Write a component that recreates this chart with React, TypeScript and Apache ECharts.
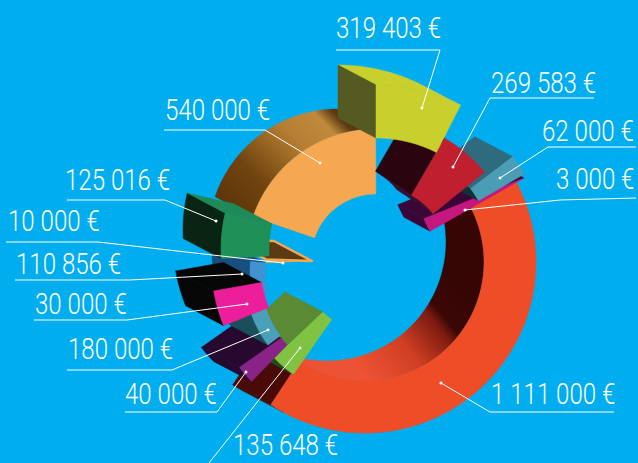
import React, { useEffect, useRef } from "react";
import * as echarts from "echarts";

// ---- data ----
const sliceNames = ["orange", "yellow", "crimson", "teal", "magenta", "red", "lime", "purple", "aqua", "pink", "blue", "sliver", "green"];
const sliceValues = [540000, 319403, 269583, 62000, 3000, 1111000, 135648, 40000, 180000, 30000, 110856, 10000, 125016];

// ---- styling and layout ----
const BG = "#00aeef";
const W = 638;
const H = 463;
const DEFAULT_DEPTH = [-38, -20];
const drawOrder = [5, 0, 11, 4, 3, 2, 1, 6, 7, 8, 10, 9, 12];

const grad = (x0: number, y0: number, x1: number, y1: number, stops: [number, string][]) =>
  new echarts.graphic.LinearGradient(x0, y0, x1, y1, stops.map(([offset, color]) => ({ offset, color })), true);

type Geo = {
  cx: number; cy: number; r0: number; r1: number; start: number; stretch: number;
  face: string; outer?: any; inner?: any; capS?: any; capE?: any; depth?: number[]; wallStroke?: string;
};
const geometry: Geo[] = [
  { cx: 376, cy: 259, r0: 65, r1: 130, start: 161, stretch: 1.07, face: "#f5a851",
    outer: grad(228, 222, 350, 100, [[0, "#5a3208"], [0.3, "#70440f"], [0.62, "#b57e32"], [0.8, "#c08a3c"], [0.88, "#5b3a14"], [1, "#4f3210"]]), capS: "#5a3410", capE: "#5a3612" },
  { cx: 376, cy: 271, r0: 133, r1: 186, start: 90, stretch: 0.69, face: "#c9d02e", outer: "#c9d02e", capS: "#555a22", capE: "#555a22" },
  { cx: 373, cy: 262, r0: 77, r1: 143, start: 60, stretch: 0.64, face: "#bf1f2e", inner: "#3a1030", capS: "#2a040f", capE: "#2a040f", depth: [-36, -24] },
  { cx: 373, cy: 262, r0: 122, r1: 175, start: 37, stretch: 0.9, face: "#4a9db5", inner: "#123038", capS: "#2f6b7f", capE: "#2f6b7f" },
  { cx: 524, cy: 178, r0: 0, r1: 108, start: 209.5, stretch: 20, face: "#c4187f", capS: "#3a0638", capE: "#3a0638", inner: "#3a0638", outer: "#3a0638", depth: [-26, -14] },
  { cx: 365, cy: 262, r0: 119, r1: 171, start: 28.3, stretch: 1.114, face: "#ef4c28", outer: "#4a0a08", capS: "#3a0806", capE: "#4a0a08",
    inner: grad(470, 305, 372, 385, [[0, "#360605"], [0.22, "#3c0806"], [0.3, "#7c1a10"], [0.6, "#cf3f23"], [1, "#ee5234"]]) },
  { cx: 365, cy: 272, r0: 58, r1: 125, start: 235, stretch: 0.69, face: "#80c342", outer: "#234a1c", inner: "#4a7a2c", capS: "#234a1c", capE: "#5b8a35" },
  { cx: 322, cy: 309, r0: 50, r1: 101, start: 225.8, stretch: 2.14, face: "#8a2388", outer: "#27082f", inner: "#4f1a5e", capS: "#27082f", capE: "#27082f" },
  { cx: 357, cy: 278, r0: 96, r1: 111.5, start: 217, stretch: 0.83, face: "#4aa0ba", outer: "#1a4f5a", inner: "#13303a", capS: "#1a1030", capE: "#1a4f5a" },
  { cx: 385, cy: 260.5, r0: 125.5, r1: 174, start: 202, stretch: 3.24, face: "#ec1e9a", outer: "#060606", inner: "#060606", capS: "#060606", capE: "#060606" },
  { cx: 370, cy: 272, r0: 105, r1: 120, start: 192, stretch: 1.25, face: "#3f93d2", outer: "#17507f", inner: "#17507f", capS: "#17507f", capE: "#17507f" },
  { cx: 312, cy: 261, r0: 0, r1: 46, start: 182, stretch: 3.3, face: "#f5a851", capE: "#5b3a14", capS: "#5b3a14", wallStroke: "#f5a851" },
  { cx: 385, cy: 250, r0: 116, r1: 164, start: 183, stretch: 1.045, face: "#1f9058", outer: "#0a2413", inner: "#0f5a38", capS: "#0a2413", capE: "#1f8a58" },
];

// label rows, by slice: text left, text middle y, leader polyline ends in the dot
const labelLayout: { x: number; y: number; line: number[][]; }[] = [
  { x: 165, y: 110, line: [[164, 130], [265, 130], [320, 163]] },
  { x: 336, y: 28, line: [[336, 50], [440, 50], [422, 108]] },
  { x: 491, y: 83, line: [[594, 98], [490, 98], [453, 167]] },
  { x: 542, y: 131, line: [[636, 147], [548, 147], [500, 178]] },
  { x: 556, y: 179, line: [[636, 198], [560, 200], [465, 210]] },
  { x: 491, y: 394, line: [[614, 412], [490, 412], [441, 383]] },
  { x: 233, y: 445, line: [[209, 463], [300, 348]] },
  { x: 125, y: 394, line: [[125, 412], [217, 412], [246, 372]] },
  { x: 68, y: 349, line: [[67, 370], [172, 370], [268, 330]] },
  { x: 35, y: 304, line: [[34, 320], [127, 320], [247, 304]] },
  { x: 16, y: 264, line: [[15, 280], [130, 280], [242, 274]] },
  { x: 8, y: 221, line: [[6, 242], [98, 242], [283, 263]] },
  { x: 65, y: 180, line: [[67, 200], [165, 200], [216, 221]] },
];

const euro = (v: number) => String(v).replace(/\B(?=(\d{3})+$)/g, " ") + " €";
const total = sliceValues.reduce((a, b) => a + b, 0);

function renderSlice(params: any, api: any) {
  const g = geometry[drawOrder[params.dataIndex]];
  const sweep = (api.value(0) / total) * 360 * g.stretch;
  const d = g.depth || DEFAULT_DEPTH;
  const a0 = g.start;
  const a1 = g.start - sweep;
  const pt = (r: number, deg: number, off = 0) => {
    const t = (deg * Math.PI) / 180;
    return [g.cx + r * Math.cos(t) + off * d[0], g.cy - r * Math.sin(t) + off * d[1]];
  };
  const steps = Math.max(2, Math.ceil(sweep));
  const angles: number[] = [];
  for (let i = 0; i <= steps; i++) angles.push(a0 + ((a1 - a0) * i) / steps);
  const radialDot = (deg: number) => {
    const t = (deg * Math.PI) / 180;
    return Math.cos(t) * d[0] - Math.sin(t) * d[1];
  };
  const poly = (points: number[][], fill: any, stroke?: string) => ({
    type: "polygon",
    shape: { points },
    style: stroke ? { fill, stroke, lineWidth: 2.4, lineJoin: "round" } : { fill, stroke: fill, lineWidth: 0.5 },
  });
  const children: any[] = [];
  const strip = (r: number, angs: number[], fill: any) => {
    if (angs.length < 2 || !fill || r <= 0) return;
    const front = angs.map((a) => pt(r, a));
    const back = angs.slice().reverse().map((a) => pt(r, a, 1));
    children.push(poly(front.concat(back), fill));
  };
  const t0 = (a0 * Math.PI) / 180;
  const t1 = (a1 * Math.PI) / 180;
  strip(g.r1, angles.filter((a) => radialDot(a) > 0), g.outer);
  if (-Math.sin(t0) * d[0] - Math.cos(t0) * d[1] > 0) {
    children.push(poly([pt(g.r0, a0), pt(g.r1, a0), pt(g.r1, a0, 1), pt(g.r0, a0, 1)], g.capS, g.wallStroke));
  }
  if (Math.sin(t1) * d[0] + Math.cos(t1) * d[1] > 0) {
    children.push(poly([pt(g.r0, a1), pt(g.r1, a1), pt(g.r1, a1, 1), pt(g.r0, a1, 1)], g.capE, g.wallStroke));
  }
  strip(g.r0, angles.filter((a) => radialDot(a) < 0), g.inner);
  const faceOuter = angles.map((a) => pt(g.r1, a));
  const faceInner = angles.slice().reverse().map((a) => pt(g.r0, a));
  children.push(poly(faceOuter.concat(faceInner), g.face));
  return { type: "group", children };
}

export default function App() {
  const ref = useRef<HTMLDivElement>(null);
  useEffect(() => {
    document.body.style.margin = "0";
    const chart = echarts.init(ref.current!, null, { renderer: "svg" });
    const graphics: any[] = [];
    sliceValues.forEach((v, i) => {
      const l = labelLayout[i];
      graphics.push({
        type: "polyline", z: 10, shape: { points: l.line },
        style: { fill: "none", stroke: "#ffffff", lineWidth: 1 },
      });
      const dot = l.line[l.line.length - 1];
      const tip = i === 6 ? l.line[1] : dot;
      graphics.push({ type: "circle", z: 10, shape: { cx: tip[0], cy: tip[1], r: 1.5 }, style: { fill: "#ffffff" } });
      graphics.push({
        type: "text", z: 11, x: l.x, y: l.y, scaleX: 0.83,
        style: {
          text: euro(v), fill: "#ffffff", font: '300 29px Roboto, "Liberation Sans", sans-serif',
          textAlign: "left", textVerticalAlign: "middle",
        },
      });
    });
    chart.setOption({
      animation: false,
      backgroundColor: BG,
      series: [
        {
          type: "custom",
          name: "amounts",
          coordinateSystem: "none",
          renderItem: renderSlice,
          silent: true,
          data: drawOrder.map((i) => ({ name: sliceNames[i], value: [sliceValues[i]] })),
        },
      ],
      graphic: graphics,
    });
    return () => chart.dispose();
  }, []);
  return <div ref={ref} style={{ width: W, height: H }} />;
}
